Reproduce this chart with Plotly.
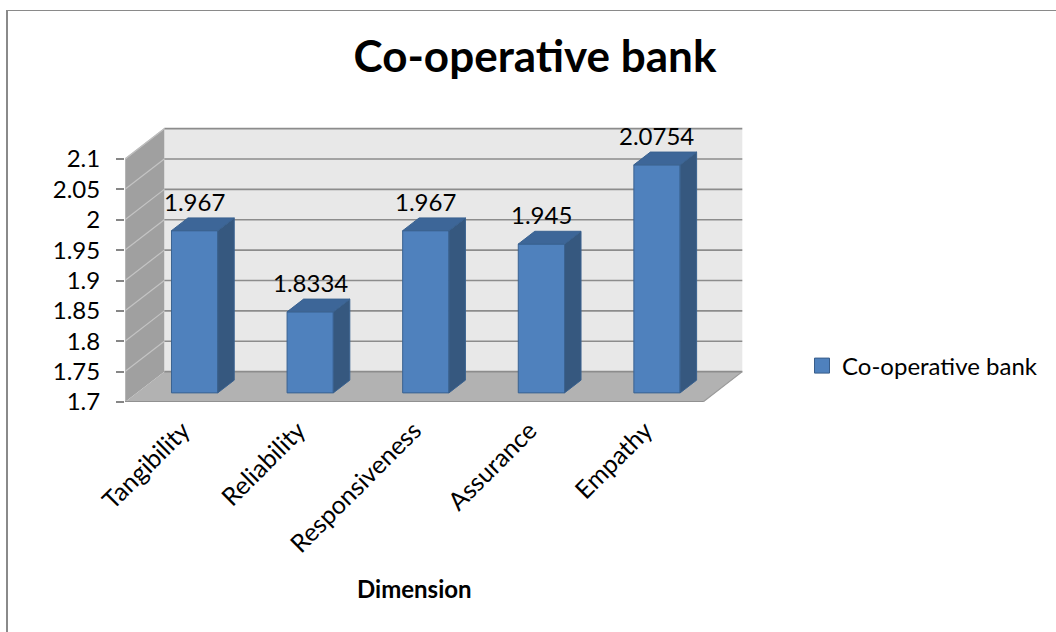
import plotly.graph_objects as go

# ---- chart data -------------------------------------------------------
categories = ["Tangibility", "Reliability", "Responsiveness", "Assurance", "Empathy"]
values = [1.967, 1.8334, 1.967, 1.945, 2.0754]
value_labels = ["1.967", "1.8334", "1.967", "1.945", "2.0754"]
series_name = "Co-operative bank"
chart_title = "Co-operative bank"
x_title = "Dimension"
y_ticks = [1.7, 1.75, 1.8, 1.85, 1.9, 1.95, 2.0, 2.05, 2.1]
y_tick_text = ["1.7", "1.75", "1.8", "1.85", "1.9", "1.95", "2", "2.05", "2.1"]

# ---- page / plot-area geometry ---------------------------------------
W, H = 1056, 632
ML, MB, MR, MT = 125, 230, 307, 123
PX_PER_CAT = 115.6          # horizontal pixels per category slot
PX_PER_UNIT = 607.5         # vertical pixels per value unit
PLOT_W = W - ML - MR
PLOT_H = H - MT - MB

n = len(categories)
X0 = -0.5
XE = n - 0.5                # right end of the front category axis
Y0 = y_ticks[0]
YT = y_ticks[-1]
X1 = X0 + PLOT_W / PX_PER_CAT
Y1 = Y0 + PLOT_H / PX_PER_UNIT

# oblique depth of the 3-D box (in axis units) and bar placement in depth
DX, DY = 0.34, 0.05
F1, F2 = 0.30, 0.72
HALF = 0.2

FONT = "Lato"
TXT = 24
BAR_FRONT = "#4f81bd"
BAR_SIDE = "#36587f"
BAR_TOP = "#3d6698"
BAR_EDGE = "#3a6290"
AXIS = "#868686"


def px_x(p):
    return (p - ML) / PLOT_W


def px_y(p):
    return (H - MB - p) / PLOT_H


shapes = []

# back wall, side wall and floor
shapes.append(dict(type="rect", xref="x", yref="y", layer="below",
                   x0=X0 + DX, x1=XE + DX, y0=Y0 + DY, y1=YT + DY,
                   fillcolor="#e8e8e8", line=dict(width=0)))
shapes.append(dict(type="path", xref="x", yref="y", layer="below",
                   path=f"M{X0},{Y0} L{X0 + DX},{Y0 + DY} L{X0 + DX},{YT + DY} L{X0},{YT} Z",
                   fillcolor="#a0a0a0", line=dict(width=0)))
shapes.append(dict(type="path", xref="x", yref="y", layer="below",
                   path=f"M{X0},{Y0} L{XE},{Y0} L{XE + DX},{Y0 + DY} L{X0 + DX},{Y0 + DY} Z",
                   fillcolor="#b2b2b2", line=dict(width=0)))

# gridlines on the back wall and the side wall
for v in y_ticks:
    shapes.append(dict(type="line", xref="x", yref="y", layer="below",
                       x0=X0 + DX, x1=XE + DX, y0=v + DY, y1=v + DY,
                       line=dict(color="#8c8c8c", width=1.6)))
    if v > Y0:
        shapes.append(dict(type="line", xref="x", yref="y", layer="below",
                           x0=X0, x1=X0 + DX, y0=v, y1=v + DY,
                           line=dict(color="#c4c4c4", width=1.2)))

# box outline: left edge, top of side wall, floor edges
shapes.append(dict(type="line", xref="x", yref="y", layer="below",
                   x0=X0, x1=X0, y0=Y0, y1=YT, line=dict(color="#bdbdbd", width=1.5)))
shapes.append(dict(type="line", xref="x", yref="y", layer="below",
                   x0=X0, x1=X0 + DX, y0=YT, y1=YT + DY, line=dict(color="#bdbdbd", width=1.2)))
shapes.append(dict(type="line", xref="x", yref="y", layer="below",
                   x0=XE, x1=XE + DX, y0=Y0, y1=Y0 + DY, line=dict(color="#9a9a9a", width=1.2)))
shapes.append(dict(type="line", xref="x", yref="y", layer="below",
                   x0=X0, x1=XE, y0=Y0, y1=Y0, line=dict(color=AXIS, width=1.5)))

# category boundary ticks below the front axis
for k in range(n + 1):
    b = X0 + k
    shapes.append(dict(type="line", xref="x", yref="y", ysizemode="pixel", yanchor=Y0,
                       x0=b, x1=b, y0=0, y1=-7, line=dict(color=AXIS, width=1.5)))

# chart-area frame
shapes.append(dict(type="line", xref="paper", yref="paper",
                   x0=px_x(7), x1=px_x(7), y0=px_y(10), y1=px_y(H + 10),
                   line=dict(color="#8a8a8a", width=2)))
shapes.append(dict(type="line", xref="paper", yref="paper",
                   x0=px_x(7), x1=px_x(W + 10), y0=px_y(10.5), y1=px_y(10.5),
                   line=dict(color="#8a8a8a", width=1)))

fig = go.Figure()

# front faces of the columns
xs = list(range(n))
fig.add_trace(go.Bar(
    x=[i + F1 * DX for i in xs],
    y=[v - Y0 for v in values],
    base=Y0 + F1 * DY,
    width=2 * HALF,
    marker=dict(color=BAR_FRONT, line=dict(color=BAR_EDGE, width=1)),
    showlegend=False, hoverinfo="skip",
))

# side and top faces of the columns
for i, v in zip(xs, values):
    xr1, xr2 = i + HALF + F1 * DX, i + HALF + F2 * DX
    xl1, xl2 = i - HALF + F1 * DX, i - HALF + F2 * DX
    yb1, yb2 = Y0 + F1 * DY, Y0 + F2 * DY
    yt1, yt2 = v + F1 * DY, v + F2 * DY
    fig.add_trace(go.Scatter(
        x=[xr1, xr2, xr2, xr1, xr1], y=[yb1, yb2, yt2, yt1, yb1],
        mode="lines", fill="toself", fillcolor=BAR_SIDE,
        line=dict(color=BAR_EDGE, width=1), showlegend=False, hoverinfo="skip"))
    fig.add_trace(go.Scatter(
        x=[xl1, xr1, xr2, xl2, xl1], y=[yt1, yt1, yt2, yt2, yt1],
        mode="lines", fill="toself", fillcolor=BAR_TOP,
        line=dict(color=BAR_EDGE, width=1), showlegend=False, hoverinfo="skip"))

# legend entry for the series
fig.add_trace(go.Scatter(
    x=[None], y=[None], mode="markers", name=series_name,
    marker=dict(symbol="square", size=15, color=BAR_FRONT,
                line=dict(color="#385d8a", width=1)),
))

annotations = []
for i, v, t in zip(xs, values, value_labels):
    annotations.append(dict(x=i + F1 * DX, y=v + F2 * DY, xref="x", yref="y",
                            text=t, showarrow=False, yanchor="bottom",
                            font=dict(family=FONT, size=TXT, color="#000")))
annotations.append(dict(x=(n - 1) / 2, y=px_y(588), xref="x", yref="paper",
                        text=f"<b>{x_title}</b>", showarrow=False, yanchor="middle",
                        font=dict(family=FONT, size=24, color="#000")))

fig.update_layout(
    width=W, height=H,
    margin=dict(l=ML, r=MR, t=MT, b=MB, pad=0),
    paper_bgcolor="white", plot_bgcolor="white",
    title=dict(text=f"<b>{chart_title}</b>", xref="container", yref="container",
               x=535 / W, xanchor="center", y=1 - 57 / H, yanchor="middle",
               font=dict(family=FONT, size=44, color="#000")),
    xaxis=dict(range=[X0, X1], showgrid=False, zeroline=False, showline=False,
               tickmode="array", tickvals=xs, ticktext=categories, tickangle=-45,
               ticks="", tickfont=dict(family=FONT, size=25, color="#000"),
               ticklabelstandoff=8),
    yaxis=dict(range=[Y0, Y1], showgrid=False, zeroline=False, showline=False,
               tickmode="array", tickvals=y_ticks, ticktext=y_tick_text,
               ticks="outside", ticklen=8, tickcolor=AXIS, tickwidth=1.5,
               tickfont=dict(family=FONT, size=TXT, color="#000"),
               ticklabelstandoff=11),
    legend=dict(x=px_x(802), y=px_y(366), xanchor="left", yanchor="middle",
                font=dict(family=FONT, size=TXT, color="#000"),
                bgcolor="rgba(0,0,0,0)", borderwidth=0),
    shapes=shapes,
    annotations=annotations,
    showlegend=True,
)

fig.write_html("out.html")
